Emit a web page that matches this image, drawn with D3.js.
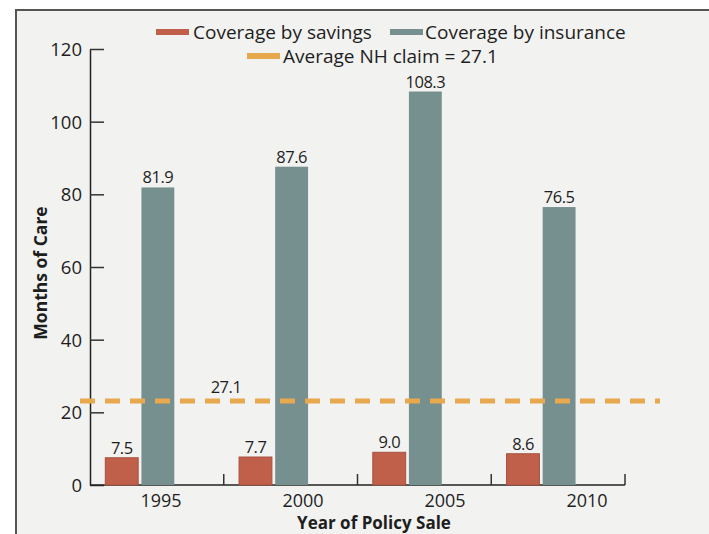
<!DOCTYPE html>
<html><head><meta charset="utf-8">
<script src="https://cdn.jsdelivr.net/npm/d3@7"></script>
<style>
html,body{margin:0;padding:0;background:#fff;}
svg{display:block;}
text{font-family:"Open Sans",sans-serif;}
</style></head>
<body>
<svg id="c" width="709" height="534"></svg>
<script>
const years = ["1995","2000","2005","2010"];
const savings = [7.5, 7.7, 9.0, 8.6];
const insurance = [81.9, 87.6, 108.3, 76.5];
const avgClaimLabel = [27.1];
const avgLineDrawnAt = [23.1];
const yTicks = [0,20,40,60,80,100,120];
const seriesNames = ["Coverage by savings","Coverage by insurance"];
const avgLegend = ["Average NH claim = 27.1"];

const colors = {savings:"#c0604a", savingsStroke:"#a8503f", insurance:"#768f8f", avg:"#e8a84e", text:"#1e1e1e"};

const svg = d3.select("#c");
svg.append("rect").attr("x",16).attr("y",10).attr("width",720).attr("height",560)
  .attr("fill","#f2f2f0").attr("stroke","#555").attr("stroke-width",2);

const x = d3.scaleBand().domain(years).range([90,625]).padding(0);
const xs = d3.scaleBand().domain(["s","i"]).range([15.3,84.3]).paddingInner(0.09);
const xl = d3.scalePoint().domain(years).range([161,587]);
const y = d3.scaleLinear().domain([0,120]).range([485,49]);

const ya = svg.append("g").attr("transform","translate(90,0)")
  .call(d3.axisRight(y).tickValues(yTicks).tickSize(14).tickSizeOuter(0).tickFormat(d3.format("d")));
ya.select(".domain").attr("stroke","#222").attr("stroke-width",1.5);
ya.selectAll(".tick line").attr("stroke","#333").attr("stroke-width",1.5);
ya.selectAll(".tick text").attr("x",-8).attr("text-anchor","end").attr("font-size",18.5).attr("fill",colors.text).attr("font-family",null).attr("dy","0.35em");

svg.append("line").attr("x1",90).attr("x2",625).attr("y1",y(0)).attr("y2",y(0)).attr("stroke","#222").attr("stroke-width",1.5);
svg.selectAll(".xt").data(years).enter().append("line")
  .attr("x1",(d,i)=> x(d)+x.step()).attr("x2",(d,i)=> x(d)+x.step())
  .attr("y1",y(0)).attr("y2",y(0)-11).attr("stroke","#333").attr("stroke-width",1.5);
svg.selectAll(".xl").data(years).enter().append("text")
  .attr("x",d=>xl(d)).attr("y",507).attr("text-anchor","middle").attr("font-size",18).attr("fill",colors.text).text(d=>d);

const g = svg.append("g");
g.selectAll(".bs").data(years).enter().append("rect")
  .attr("x",d=>x(d)+xs("s")).attr("width",xs.bandwidth())
  .attr("y",(d,i)=>y(savings[i])).attr("height",(d,i)=>y(0)-y(savings[i]))
  .attr("fill",colors.savings).attr("stroke",colors.savingsStroke).attr("stroke-width",1);
g.selectAll(".bi").data(years).enter().append("rect")
  .attr("x",d=>x(d)+xs("i")).attr("width",xs.bandwidth())
  .attr("y",(d,i)=>y(insurance[i])).attr("height",(d,i)=>y(0)-y(insurance[i]))
  .attr("fill",colors.insurance);

svg.append("line").attr("x1",80).attr("x2",660).attr("y1",y(avgLineDrawnAt[0])).attr("y2",y(avgLineDrawnAt[0]))
  .attr("stroke",colors.avg).attr("stroke-width",5).attr("stroke-dasharray","15,10");

g.selectAll(".ls").data(years).enter().append("text")
  .attr("x",d=>x(d)+xs("s")+xs.bandwidth()/2).attr("y",(d,i)=>y(savings[i])-4)
  .attr("text-anchor","middle").attr("font-size",16.5).attr("letter-spacing",-0.5).attr("fill",colors.text).text((d,i)=>savings[i].toFixed(1));
g.selectAll(".li").data(years).enter().append("text")
  .attr("x",d=>x(d)+xs("i")+xs.bandwidth()/2).attr("y",(d,i)=>y(insurance[i])-4)
  .attr("text-anchor","middle").attr("font-size",16.5).attr("letter-spacing",-0.5).attr("fill",colors.text).text((d,i)=>insurance[i].toFixed(1));
svg.append("text").attr("x",226).attr("y",y(avgLineDrawnAt[0])-8).attr("text-anchor","middle")
  .attr("font-size",16.5).attr("letter-spacing",-0.5).attr("fill",colors.text).text(avgClaimLabel[0].toFixed(1));

svg.append("text").attr("transform","translate(47,273) rotate(-90)").attr("text-anchor","middle")
  .attr("font-size",17.5).attr("font-weight","bold").attr("fill",colors.text).text("Months of Care");
svg.append("text").attr("x",374).attr("y",529).attr("text-anchor","middle")
  .attr("font-size",17).attr("font-weight","bold").attr("fill",colors.text).text("Year of Policy Sale");

const leg = [
  {sw:156, tx:193, y:32, c:colors.savings, t:seriesNames[0]},
  {sw:390, tx:425, y:32, c:colors.insurance, t:seriesNames[1]},
  {sw:247, tx:283, y:56, c:colors.avg, t:avgLegend[0]}
];
leg.forEach(l=>{
  svg.append("rect").attr("x",l.sw).attr("y",l.y-3).attr("width",33).attr("height",6).attr("fill",l.c);
  svg.append("text").attr("x",l.tx).attr("y",l.y+7).attr("font-size",19).attr("fill",colors.text).text(l.t);
});
</script>
</body></html>
